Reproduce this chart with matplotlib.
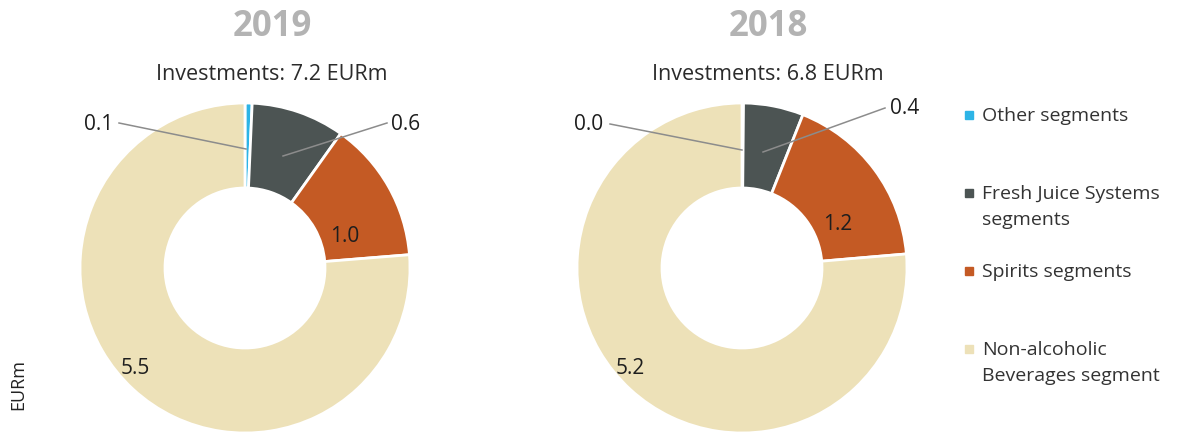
import matplotlib.pyplot as plt

# segment order: starts at 12 o'clock, runs clockwise
segments = ['Other segments', 'Fresh Juice Systems\nsegments', 'Spirits segments',
            'Non-alcoholic\nBeverages segment']
colors = ['#2DB4E6', '#4C5453', '#C45A24', '#EDE1B8']

years = ['2019', '2018']
totals = ['7.2', '6.8']
# values, labels as printed on the chart
values_2019 = [0.05, 0.66, 1.0, 5.5]
values_2018 = [0.01, 0.4, 1.2, 5.2]
labels_2019 = ['0.1', '0.6', '1.0', '5.5']
labels_2018 = ['0.0', '0.4', '1.2', '5.2']

W, H = 1186, 434
plt.rcParams['font.family'] = ['Open Sans', 'DejaVu Sans']

fig = plt.figure(figsize=(W / 100, H / 100), dpi=100)
ax = fig.add_axes([0, 0, 1, 1])


def Y(y):
    # picture rows -> axes units
    return H - y


def donut(vals, labs, cx, cy, title, total, title_x, lab_pos, lead):
    ax.pie(vals, colors=colors, startangle=90, counterclock=False,
           center=(cx, Y(cy)), radius=165, frame=True,
           wedgeprops=dict(width=85, edgecolor='white', linewidth=2))
    ax.text(title_x, Y(27), title, ha='center', va='center', fontsize=25,
            fontweight='bold', color='#B3B3B3')
    ax.text(title_x, Y(75), 'Investments: %s EURm' % total, ha='center',
            va='center', fontsize=15.5, color='#2B2B2B')
    for i, lab in enumerate(labs):
        x, y = lab_pos[i]
        ax.text(x, Y(y), lab, ha='center', va='center', fontsize=15, color='#1E1E1E')
        if lead[i] is not None:
            (x0, y0), (x1, y1) = lead[i]
            ax.plot([x0, x1], [Y(y0), Y(y1)], color='#8C8C8C', lw=1.1)


donut(values_2019, labels_2019, 245, 268, years[0], totals[0], 272,
      [(99, 124), (406, 124), (345, 237), (135, 368)],
      [((119, 123), (246, 149)), ((387, 123), (283, 156)), None, None])
donut(values_2018, labels_2018, 742, 268, years[1], totals[1], 768,
      [(589, 124), (905, 108), (838, 225), (630, 368)],
      [((610, 124), (742, 150)), ((885, 108), (763, 152)), None, None])

# legend, drawn by hand to keep the row spacing
for i, (name, c) in enumerate(zip(segments, colors)):
    y = 115 + i * 78
    ax.plot([969], [Y(y)], marker='s', ms=5.5, color=c, ls='none')
    ax.text(982, Y(y) + 8, name, ha='left', va='top', fontsize=14,
            color='#333333', linespacing=1.55)

ax.text(18, Y(385), 'EURm', rotation=90, ha='center', va='center',
        fontsize=13, color='#222222')

ax.set_xlim(0, W)
ax.set_ylim(0, H)
ax.set_aspect('auto')
ax.axis('off')
fig.savefig('out.png', dpi=100, facecolor='white')
